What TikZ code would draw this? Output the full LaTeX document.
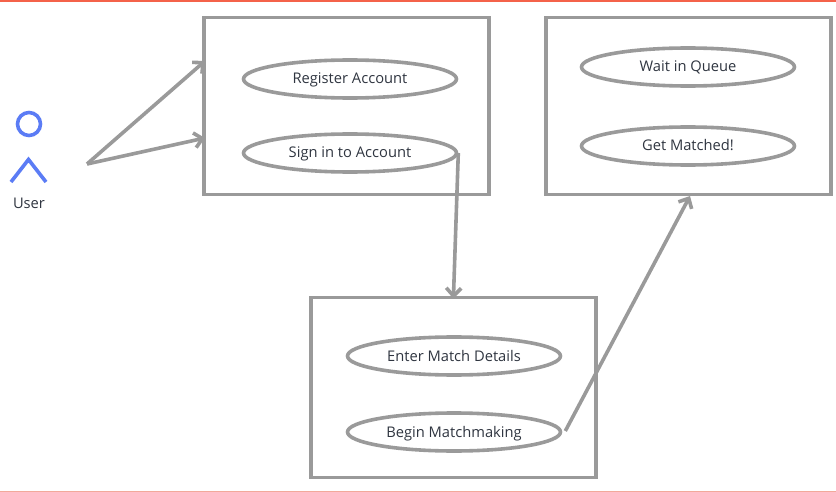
\documentclass[tikz,border=0pt]{standalone}
\usepackage{fontspec}
\setmainfont{Open Sans}
\usetikzlibrary{arrows.meta,shapes.geometric}
\definecolor{linegray}{HTML}{9A9A9A}
\definecolor{actorblue}{HTML}{5B7CF5}
\definecolor{topbar}{HTML}{F4624A}
\definecolor{botbar}{HTML}{F2A99B}
\definecolor{textdark}{HTML}{2F3540}
\tikzset{
	usebox/.style={draw=linegray,line width=3.7pt,minimum width=285pt,minimum height=177pt},
	usecase/.style={draw=linegray,ellipse,line width=3.6pt,minimum width=213pt,minimum height=38pt,inner sep=0pt,font=\fontsize{14.7}{16}\selectfont,text=textdark,text height=10pt,text depth=0pt},
	flow/.style={draw=linegray,line width=3.6pt,-{Straight Barb[length=8pt,width=15pt]}},
}
\begin{document}
\begin{tikzpicture}[x=1pt,y=-1pt]
		\useasboundingbox (0,0) rectangle (836,492);
		\fill[topbar] (0,0) rectangle (836,2);
		\fill[botbar] (0,490.5) rectangle (836,492);
		\node[usebox] (accountbox) at (346.5,106) {};
		\node[usebox] (queuebox) at (688.5,106) {};
		\node[usebox,minimum height=180pt] (matchbox) at (453.5,387.5) {};
		\node[usecase] (register) at (350,79) {Register Account};
		\node[usecase] (signin) at (350,153) {Sign in to Account};
		\node[usecase] (wait) at (688,67) {Wait in Queue};
		\node[usecase] (matched) at (688,146) {Get Matched!};
		\node[usecase] (details) at (454,356) {Enter Match Details};
		\node[usecase] (begin) at (454,432) {Begin Matchmaking};
		\node[draw=actorblue,circle,line width=3.6pt,minimum size=23pt,inner sep=0pt] (head) at (29,124) {};
		\coordinate (footL) at (11,182);
		\coordinate (hip) at (28.5,159.5);
		\coordinate (footR) at (46,182);
		\draw[actorblue,line width=3.6pt] (footL) -- (hip) -- (footR);
		\node[font=\fontsize{14.7}{16}\selectfont,text=textdark,text height=10pt,text depth=0pt] (user) at (29,203) {User};
		\coordinate (userout) at (87,164);
		\coordinate (regin) at (205,61);
		\coordinate (signinin) at (205,138);
		\coordinate (matchin) at (690,196);
		\draw[flow] (userout) -- (regin);
		\draw[flow] (userout) -- (signinin);
		\draw[flow,shorten >=-3pt] (signin.east) -- (matchbox.north);
		\draw[flow] (begin.east) ++(3,-1) coordinate (beginout) -- (matchin);
	\end{tikzpicture}
\end{document}
